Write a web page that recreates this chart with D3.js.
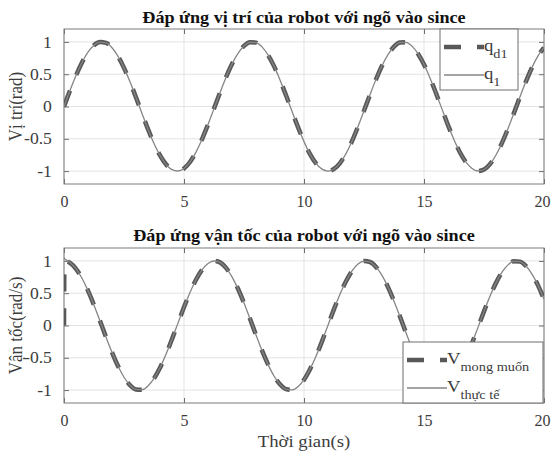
<!DOCTYPE html>
<html>
<head>
<meta charset="utf-8">
<script src="https://cdn.jsdelivr.net/npm/d3@7"></script>
<style>
  body { margin: 0; background: #fff; }
  svg text { font-family: "Liberation Serif", "Times New Roman", serif; }
</style>
</head>
<body>
<div id="chart"></div>
<script>
// sample times (s)
var time = [0, 0.02, 0.25, 0.5, 0.75, 1, 1.25, 1.5, 1.75, 2, 2.25, 2.5, 2.75, 3, 3.25, 3.5, 3.75, 4, 4.25, 4.5, 4.75,
  5, 5.25, 5.5, 5.75, 6, 6.25, 6.5, 6.75, 7, 7.25, 7.5, 7.75, 8, 8.25, 8.5, 8.75, 9, 9.25, 9.5, 9.75,
  10, 10.25, 10.5, 10.75, 11, 11.25, 11.5, 11.75, 12, 12.25, 12.5, 12.75, 13, 13.25, 13.5, 13.75, 14, 14.25, 14.5, 14.75,
  15, 15.25, 15.5, 15.75, 16, 16.25, 16.5, 16.75, 17, 17.25, 17.5, 17.75, 18, 18.25, 18.5, 18.75, 19, 19.25, 19.5, 19.75, 20];

// position (rad)
var qDesired = [0, 0.02, 0.247, 0.479, 0.682, 0.841, 0.949, 0.997, 0.984, 0.909, 0.778, 0.598, 0.382, 0.141, -0.108, -0.351, -0.572, -0.757, -0.895, -0.978, -0.999,
  -0.959, -0.859, -0.706, -0.508, -0.279, -0.033, 0.215, 0.450, 0.657, 0.823, 0.938, 0.995, 0.989, 0.923, 0.798, 0.625, 0.412, 0.174, -0.075, -0.319,
  -0.544, -0.737, -0.880, -0.970, -1.000, -0.967, -0.875, -0.729, -0.537, -0.310, -0.066, 0.182, 0.420, 0.632, 0.804, 0.927, 0.991, 0.994, 0.935, 0.818,
  0.650, 0.442, 0.207, -0.041, -0.288, -0.515, -0.712, -0.863, -0.961, -0.999, -0.976, -0.892, -0.751, -0.564, -0.342, -0.099, 0.150, 0.390, 0.605, 0.784, 0.913];
var qActual = [0, 0.02, 0.247, 0.479, 0.682, 0.841, 0.949, 0.997, 0.984, 0.909, 0.778, 0.598, 0.382, 0.141, -0.108, -0.351, -0.572, -0.757, -0.895, -0.978, -0.999,
  -0.959, -0.859, -0.706, -0.508, -0.279, -0.033, 0.215, 0.450, 0.657, 0.823, 0.938, 0.995, 0.989, 0.923, 0.798, 0.625, 0.412, 0.174, -0.075, -0.319,
  -0.544, -0.737, -0.880, -0.970, -1.000, -0.967, -0.875, -0.729, -0.537, -0.310, -0.066, 0.182, 0.420, 0.632, 0.804, 0.927, 0.991, 0.994, 0.935, 0.818,
  0.650, 0.442, 0.207, -0.041, -0.288, -0.515, -0.712, -0.863, -0.961, -0.999, -0.976, -0.892, -0.751, -0.564, -0.342, -0.099, 0.150, 0.390, 0.605, 0.784, 0.913];

// velocity (rad/s)
var vDesired = [0, 1.0, 0.969, 0.878, 0.732, 0.540, 0.315, 0.071, -0.178, -0.416, -0.628, -0.801, -0.924, -0.990, -0.994, -0.936, -0.820, -0.654, -0.446, -0.211, 0.037,
  0.284, 0.512, 0.709, 0.861, 0.960, 0.999, 0.977, 0.893, 0.754, 0.568, 0.347, 0.104, -0.146, -0.386, -0.602, -0.782, -0.911, -0.985, -0.997, -0.948,
  -0.839, -0.676, -0.476, -0.245, 0.004, 0.254, 0.484, 0.684, 0.844, 0.951, 0.998, 0.983, 0.907, 0.775, 0.594, 0.377, 0.137, -0.112, -0.355, -0.576,
  -0.760, -0.897, -0.978, -0.999, -0.958, -0.857, -0.703, -0.504, -0.275, -0.029, 0.219, 0.454, 0.660, 0.825, 0.939, 0.995, 0.989, 0.921, 0.795, 0.621, 0.408];
var vActual = [1.05, 1.04, 0.975, 0.88, 0.732, 0.540, 0.315, 0.071, -0.178, -0.416, -0.628, -0.801, -0.924, -0.990, -0.994, -0.936, -0.820, -0.654, -0.446, -0.211, 0.037,
  0.284, 0.512, 0.709, 0.861, 0.960, 0.999, 0.977, 0.893, 0.754, 0.568, 0.347, 0.104, -0.146, -0.386, -0.602, -0.782, -0.911, -0.985, -0.997, -0.948,
  -0.839, -0.676, -0.476, -0.245, 0.004, 0.254, 0.484, 0.684, 0.844, 0.951, 0.998, 0.983, 0.907, 0.775, 0.594, 0.377, 0.137, -0.112, -0.355, -0.576,
  -0.760, -0.897, -0.978, -0.999, -0.958, -0.857, -0.703, -0.504, -0.275, -0.029, 0.219, 0.454, 0.660, 0.825, 0.939, 0.995, 0.989, 0.921, 0.795, 0.621, 0.408];

var xTicks = [0, 5, 10, 15, 20];
var yTicks = [-1, -0.5, 0, 0.5, 1];
var yTickLabels = ["-1", "-0.5", "0", "0.5", "1"];

var W = 551, H = 453;
var SX = 1.1; // the figure is a little wider than tall, text stretched sideways
var svg = d3.select('#chart').append('svg')
  .attr('width', W)
  .attr('height', H);

var panels = [
  { top: 29, bottom: 184, title: 'Đáp ứng vị trí của robot với ngõ vào since', ylabel: 'Vị trí(rad)', titleY: 23,
    desired: qDesired, actual: qActual,
    legend: { x: 440, y: 29, w: 78, h: 61, names: [['q', 'd1'], ['q', '1']] } },
  { top: 248, bottom: 403, title: 'Đáp ứng vận tốc của robot với ngõ vào since', ylabel: 'Vận tốc(rad/s)', titleY: 241,
    desired: vDesired, actual: vActual,
    legend: { x: 403, y: 342, w: 140, h: 61, names: [['V', 'mong muốn'], ['V', 'thực tế']] } }
];

var left = 64, right = 544;
var x = d3.scaleLinear().domain([0, 20]).range([left, right]);

function stretchText(sel, tx, ty, rot) {
  sel.attr('transform', 'translate(' + tx + ',' + ty + ') scale(' + SX + ',1)' + (rot ? ' rotate(' + rot + ')' : ''));
}

panels.forEach(function(p, i) {
  var y = d3.scaleLinear().domain([-1.2, 1.2]).range([p.bottom, p.top]);
  var g = svg.append('g');

  var clipId = 'clip' + i;
  svg.append('clipPath').attr('id', clipId)
    .append('rect')
    .attr('x', left).attr('y', p.top)
    .attr('width', right - left).attr('height', p.bottom - p.top);

  //grid
  g.append('g').selectAll('line').data(xTicks).enter().append('line')
    .attr('x1', function(d) { return x(d); }).attr('x2', function(d) { return x(d); })
    .attr('y1', p.top).attr('y2', p.bottom)
    .style('stroke', '#e3e3e3').style('stroke-width', 1);
  g.append('g').selectAll('line').data(yTicks).enter().append('line')
    .attr('x1', left).attr('x2', right)
    .attr('y1', function(d) { return y(d); }).attr('y2', function(d) { return y(d); })
    .style('stroke', '#e3e3e3').style('stroke-width', 1);

  //x-axis
  var xAxis = g.append('g')
    .attr('transform', 'translate(0,' + p.bottom + ')')
    .call(d3.axisBottom(x).tickValues(xTicks).tickSizeInner(-5).tickSizeOuter(0).tickPadding(12));
  var xAxisTop = g.append('g')
    .attr('transform', 'translate(0,' + p.top + ')')
    .call(d3.axisTop(x).tickValues(xTicks).tickSizeInner(-5).tickSizeOuter(0).tickFormat(''));

  //y-axis
  var yAxis = g.append('g')
    .attr('transform', 'translate(' + left + ',0)')
    .call(d3.axisLeft(y).tickValues(yTicks).tickSizeInner(-5).tickSizeOuter(0).tickPadding(11)
      .tickFormat(function(d, k) { return yTickLabels[k]; }));
  var yAxisRight = g.append('g')
    .attr('transform', 'translate(' + right + ',0)')
    .call(d3.axisRight(y).tickValues(yTicks).tickSizeInner(-5).tickSizeOuter(0).tickFormat(''));

  [xAxis, xAxisTop, yAxis, yAxisRight].forEach(function(a) {
    a.select('.domain').remove();
    a.selectAll('line').style('stroke', '#6e6e6e');
    a.selectAll('text').style('font-size', '16px').style('fill', '#3c3c3c')
      .style('font-family', '"Liberation Serif", serif');
  });
  yAxis.selectAll('text').attr('transform', 'scale(' + SX + ',1)');
  // keep the last label inside the window
  xAxis.selectAll('text').filter(function(d) { return d === 20; }).attr('dx', -2);

  g.append('rect')
    .attr('x', left).attr('y', p.top)
    .attr('width', right - left).attr('height', p.bottom - p.top)
    .style('fill', 'none').style('stroke', '#7a7a7a').style('stroke-width', 1);

  var rows = time.map(function(t, k) { return { t: t, d: p.desired[k], a: p.actual[k] }; });

  var lineD = d3.line().x(function(d) { return x(d.t); }).y(function(d) { return y(d.d); }).curve(d3.curveMonotoneX);
  var lineA = d3.line().x(function(d) { return x(d.t); }).y(function(d) { return y(d.a); }).curve(d3.curveMonotoneX);

  var plot = g.append('g').attr('clip-path', 'url(#' + clipId + ')');
  plot.append('path')
    .datum(rows)
    .attr('d', lineD)
    .style('fill', 'none')
    .style('stroke', '#585858')
    .style('stroke-width', 4.5)
    .style('stroke-dasharray', '17,17');
  plot.append('path')
    .datum(rows)
    .attr('d', lineA)
    .style('fill', 'none')
    .style('stroke', '#858585')
    .style('stroke-width', 1.3);

  //title
  svg.append('text')
    .call(stretchText, (left + right) / 2, p.titleY)
    .attr('text-anchor', 'middle')
    .style('font-size', '16.5px').style('font-weight', 'bold').style('fill', '#111')
    .text(p.title);

  //y label
  svg.append('text')
    .call(stretchText, 22, (p.top + p.bottom) / 2, -90)
    .attr('text-anchor', 'middle')
    .style('font-size', '17px').style('fill', '#3c3c3c')
    .text(p.ylabel);

  //legend
  var L = p.legend;
  var lg = svg.append('g');
  lg.append('rect')
    .attr('x', L.x).attr('y', L.y).attr('width', L.w).attr('height', L.h)
    .style('fill', '#fff').style('stroke', '#6e6e6e').style('stroke-width', 1);
  var rowsY = [L.y + 18, L.y + 46];
  lg.append('line')
    .attr('x1', L.x + 4).attr('x2', L.x + 44)
    .attr('y1', rowsY[0]).attr('y2', rowsY[0])
    .style('stroke', '#585858').style('stroke-width', 4.5).style('stroke-dasharray', '17,16');
  lg.append('line')
    .attr('x1', L.x + 4).attr('x2', L.x + 44)
    .attr('y1', rowsY[1]).attr('y2', rowsY[1])
    .style('stroke', '#858585').style('stroke-width', 1.3);
  L.names.forEach(function(n, k) {
    var t = lg.append('text')
      .call(stretchText, L.x + 44, rowsY[k] + 4)
      .style('font-size', '17px').style('fill', '#3c3c3c');
    t.append('tspan').text(n[0]);
    t.append('tspan').attr('dy', 7).style('font-size', '13px').text(n[1]);
  });
});

//x label
svg.append('text')
  .call(stretchText, (left + right) / 2, 447)
  .attr('text-anchor', 'middle')
  .style('font-size', '17px').style('fill', '#3c3c3c')
  .text('Thời gian(s)');
</script>
</body>
</html>
